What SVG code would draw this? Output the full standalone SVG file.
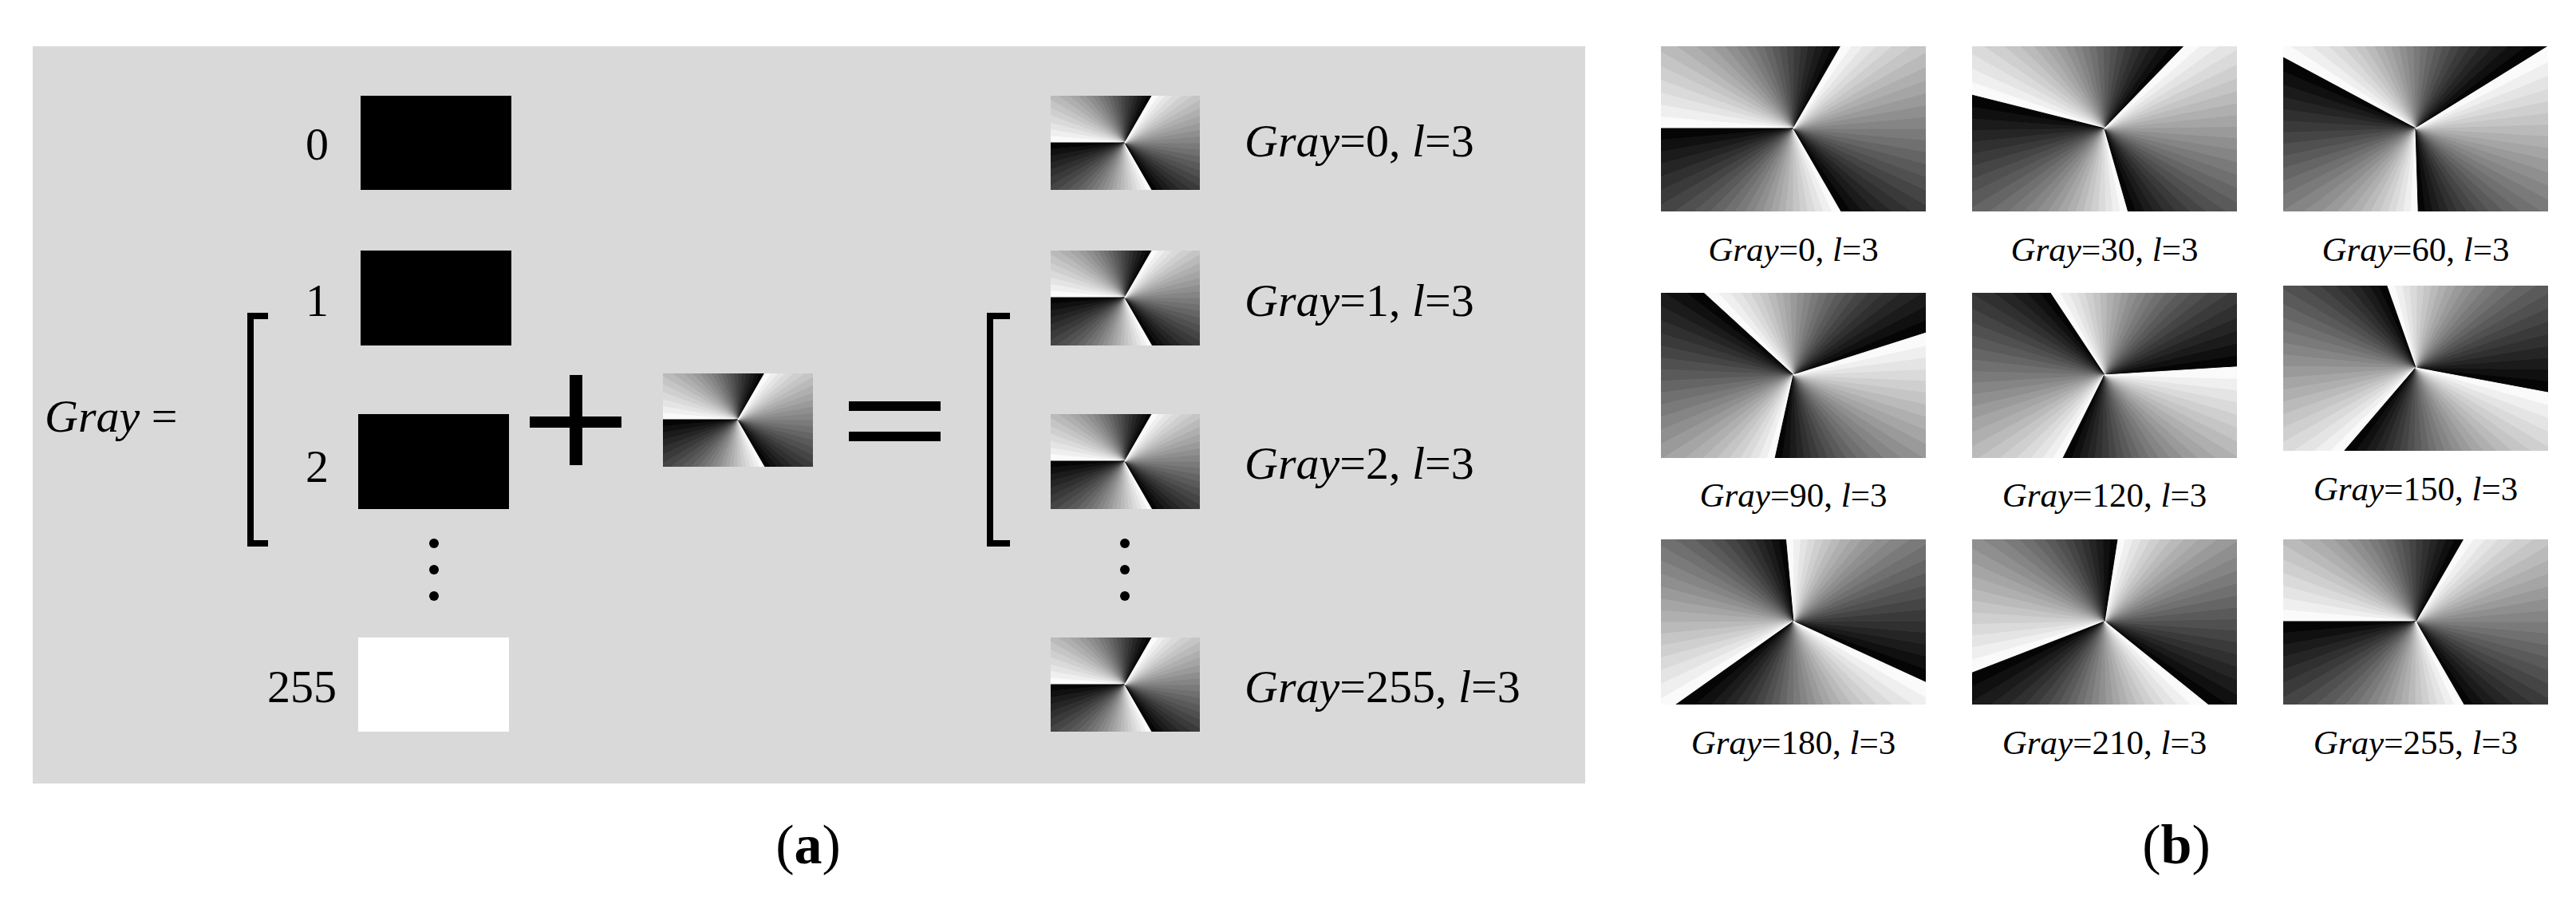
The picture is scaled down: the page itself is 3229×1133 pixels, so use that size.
<svg xmlns="http://www.w3.org/2000/svg" xmlns:xlink="http://www.w3.org/1999/xlink" width="3229" height="1133" viewBox="0 0 3229 1133" font-family="'Liberation Serif', 'Times New Roman', 'DejaVu Serif', serif">
<style>
text, tspan{font-family:"Liberation Serif","Times New Roman","DejaVu Serif",serif;fill:#000}
.a{font-size:58px}
.b{font-size:43px}
.i{font-style:italic}
.br{fill:none;stroke:#000;stroke-width:8}
</style>
<defs>
<g id="sec" stroke-width="1">
<path d="M0,0L300,0L298.9,-26.1Z" fill="#050505" stroke="#050505"/>
<path d="M0,0L298.9,-26.1L295.4,-52.1Z" fill="#101010" stroke="#101010"/>
<path d="M0,0L295.4,-52.1L289.8,-77.6Z" fill="#1b1b1b" stroke="#1b1b1b"/>
<path d="M0,0L289.8,-77.6L281.9,-102.6Z" fill="#252525" stroke="#252525"/>
<path d="M0,0L281.9,-102.6L271.9,-126.8Z" fill="#303030" stroke="#303030"/>
<path d="M0,0L271.9,-126.8L259.8,-150Z" fill="#3a3a3a" stroke="#3a3a3a"/>
<path d="M0,0L259.8,-150L245.7,-172.1Z" fill="#454545" stroke="#454545"/>
<path d="M0,0L245.7,-172.1L229.8,-192.8Z" fill="#505050" stroke="#505050"/>
<path d="M0,0L229.8,-192.8L212.1,-212.1Z" fill="#5a5a5a" stroke="#5a5a5a"/>
<path d="M0,0L212.1,-212.1L192.8,-229.8Z" fill="#656565" stroke="#656565"/>
<path d="M0,0L192.8,-229.8L172.1,-245.7Z" fill="#707070" stroke="#707070"/>
<path d="M0,0L172.1,-245.7L150,-259.8Z" fill="#7a7a7a" stroke="#7a7a7a"/>
<path d="M0,0L150,-259.8L126.8,-271.9Z" fill="#858585" stroke="#858585"/>
<path d="M0,0L126.8,-271.9L102.6,-281.9Z" fill="#8f8f8f" stroke="#8f8f8f"/>
<path d="M0,0L102.6,-281.9L77.6,-289.8Z" fill="#9a9a9a" stroke="#9a9a9a"/>
<path d="M0,0L77.6,-289.8L52.1,-295.4Z" fill="#a5a5a5" stroke="#a5a5a5"/>
<path d="M0,0L52.1,-295.4L26.1,-298.9Z" fill="#afafaf" stroke="#afafaf"/>
<path d="M0,0L26.1,-298.9L0,-300Z" fill="#bababa" stroke="#bababa"/>
<path d="M0,0L0,-300L-26.1,-298.9Z" fill="#c5c5c5" stroke="#c5c5c5"/>
<path d="M0,0L-26.1,-298.9L-52.1,-295.4Z" fill="#cfcfcf" stroke="#cfcfcf"/>
<path d="M0,0L-52.1,-295.4L-77.6,-289.8Z" fill="#dadada" stroke="#dadada"/>
<path d="M0,0L-77.6,-289.8L-102.6,-281.9Z" fill="#e4e4e4" stroke="#e4e4e4"/>
<path d="M0,0L-102.6,-281.9L-126.8,-271.9Z" fill="#efefef" stroke="#efefef"/>
<path d="M0,0L-126.8,-271.9L-150,-259.8Z" fill="#fafafa" stroke="#fafafa"/>
</g>
<g id="v">
<use xlink:href="#sec" transform="rotate(-60)"/>
<use xlink:href="#sec" transform="rotate(-180)"/>
<use xlink:href="#sec" transform="rotate(-300)"/>
</g>
</defs>
<rect x="41" y="58" width="1946" height="924" fill="#d9d9d9"/>

<g id="left-inputs">
<rect x="452" y="120" width="189" height="118" fill="#000"/>
<rect x="452" y="314" width="189" height="119" fill="#000"/>
<rect x="449" y="519" width="189" height="119" fill="#000"/>
<rect x="449" y="799" width="189" height="118" fill="#fff"/>
<text class="a" x="412" y="200" text-anchor="end">0</text>
<text class="a" x="412" y="396" text-anchor="end">1</text>
<text class="a" x="412" y="604" text-anchor="end">2</text>
<text class="a" x="422" y="880" text-anchor="end">255</text>
<text class="a" x="56" y="541"><tspan class="i">Gray</tspan> =</text>
<path class="br" d="M336,396H314V681H336"/>
<circle cx="544" cy="681" r="6"/><circle cx="544" cy="714" r="6"/><circle cx="544" cy="747" r="6"/>
</g>
<g id="ops">
<rect x="664" y="522" width="115" height="14"/>
<rect x="714" y="470" width="16" height="113"/>
<rect x="1064" y="503" width="115" height="12"/>
<rect x="1064" y="541" width="115" height="12"/>
</g>
<g id="mid-vortex">
<svg x="831" y="468" width="188" height="117"><use xlink:href="#v" transform="translate(94,58)"/></svg>
</g>
<g id="right-outputs">
<path class="br" d="M1266,396H1241V681H1266"/>
<svg x="1317" y="120" width="187" height="118"><use xlink:href="#v" transform="translate(93,59)"/></svg>
<svg x="1317" y="314" width="187" height="119"><use xlink:href="#v" transform="translate(93,59)"/></svg>
<svg x="1317" y="519" width="187" height="119"><use xlink:href="#v" transform="translate(93,59)"/></svg>
<svg x="1317" y="799" width="187" height="118"><use xlink:href="#v" transform="translate(93,59)"/></svg>
<text class="a" x="1560" y="196"><tspan class="i">Gray</tspan>=0, <tspan class="i">l</tspan>=3</text>
<text class="a" x="1560" y="396"><tspan class="i">Gray</tspan>=1, <tspan class="i">l</tspan>=3</text>
<text class="a" x="1560" y="600"><tspan class="i">Gray</tspan>=2, <tspan class="i">l</tspan>=3</text>
<text class="a" x="1560" y="880"><tspan class="i">Gray</tspan>=255, <tspan class="i">l</tspan>=3</text>
<circle cx="1410" cy="681" r="6"/><circle cx="1410" cy="714" r="6"/><circle cx="1410" cy="747" r="6"/>
</g>
<text x="1013" y="1082" text-anchor="middle" style="font-size:70px">(<tspan font-weight="bold">a</tspan>)</text>

<g id="panel-b">
<svg x="2082" y="58" width="332" height="207"><use xlink:href="#v" transform="translate(166,103) rotate(0)"/></svg>
<svg x="2472" y="58" width="332" height="207"><use xlink:href="#v" transform="translate(166,103) rotate(14.1)"/></svg>
<svg x="2862" y="58" width="332" height="207"><use xlink:href="#v" transform="translate(166,103) rotate(28.2)"/></svg>
<svg x="2082" y="367" width="332" height="207"><use xlink:href="#v" transform="translate(166,103) rotate(42.4)"/></svg>
<svg x="2472" y="367" width="332" height="207"><use xlink:href="#v" transform="translate(166,103) rotate(56.5)"/></svg>
<svg x="2862" y="358" width="332" height="207"><use xlink:href="#v" transform="translate(166,103) rotate(70.6)"/></svg>
<svg x="2082" y="676" width="332" height="207"><use xlink:href="#v" transform="translate(166,103) rotate(84.7)"/></svg>
<svg x="2472" y="676" width="332" height="207"><use xlink:href="#v" transform="translate(166,103) rotate(98.8)"/></svg>
<svg x="2862" y="676" width="332" height="207"><use xlink:href="#v" transform="translate(166,103) rotate(120)"/></svg>
<g text-anchor="middle">
<text class="b" x="2248" y="327"><tspan class="i">Gray</tspan>=0, <tspan class="i">l</tspan>=3</text>
<text class="b" x="2638" y="327"><tspan class="i">Gray</tspan>=30, <tspan class="i">l</tspan>=3</text>
<text class="b" x="3028" y="327"><tspan class="i">Gray</tspan>=60, <tspan class="i">l</tspan>=3</text>
<text class="b" x="2248" y="635"><tspan class="i">Gray</tspan>=90, <tspan class="i">l</tspan>=3</text>
<text class="b" x="2638" y="635"><tspan class="i">Gray</tspan>=120, <tspan class="i">l</tspan>=3</text>
<text class="b" x="3028" y="627"><tspan class="i">Gray</tspan>=150, <tspan class="i">l</tspan>=3</text>
<text class="b" x="2248" y="945"><tspan class="i">Gray</tspan>=180, <tspan class="i">l</tspan>=3</text>
<text class="b" x="2638" y="945"><tspan class="i">Gray</tspan>=210, <tspan class="i">l</tspan>=3</text>
<text class="b" x="3028" y="945"><tspan class="i">Gray</tspan>=255, <tspan class="i">l</tspan>=3</text>
</g>
</g>
<text x="2728" y="1082" text-anchor="middle" style="font-size:70px">(<tspan font-weight="bold">b</tspan>)</text>
</svg>
